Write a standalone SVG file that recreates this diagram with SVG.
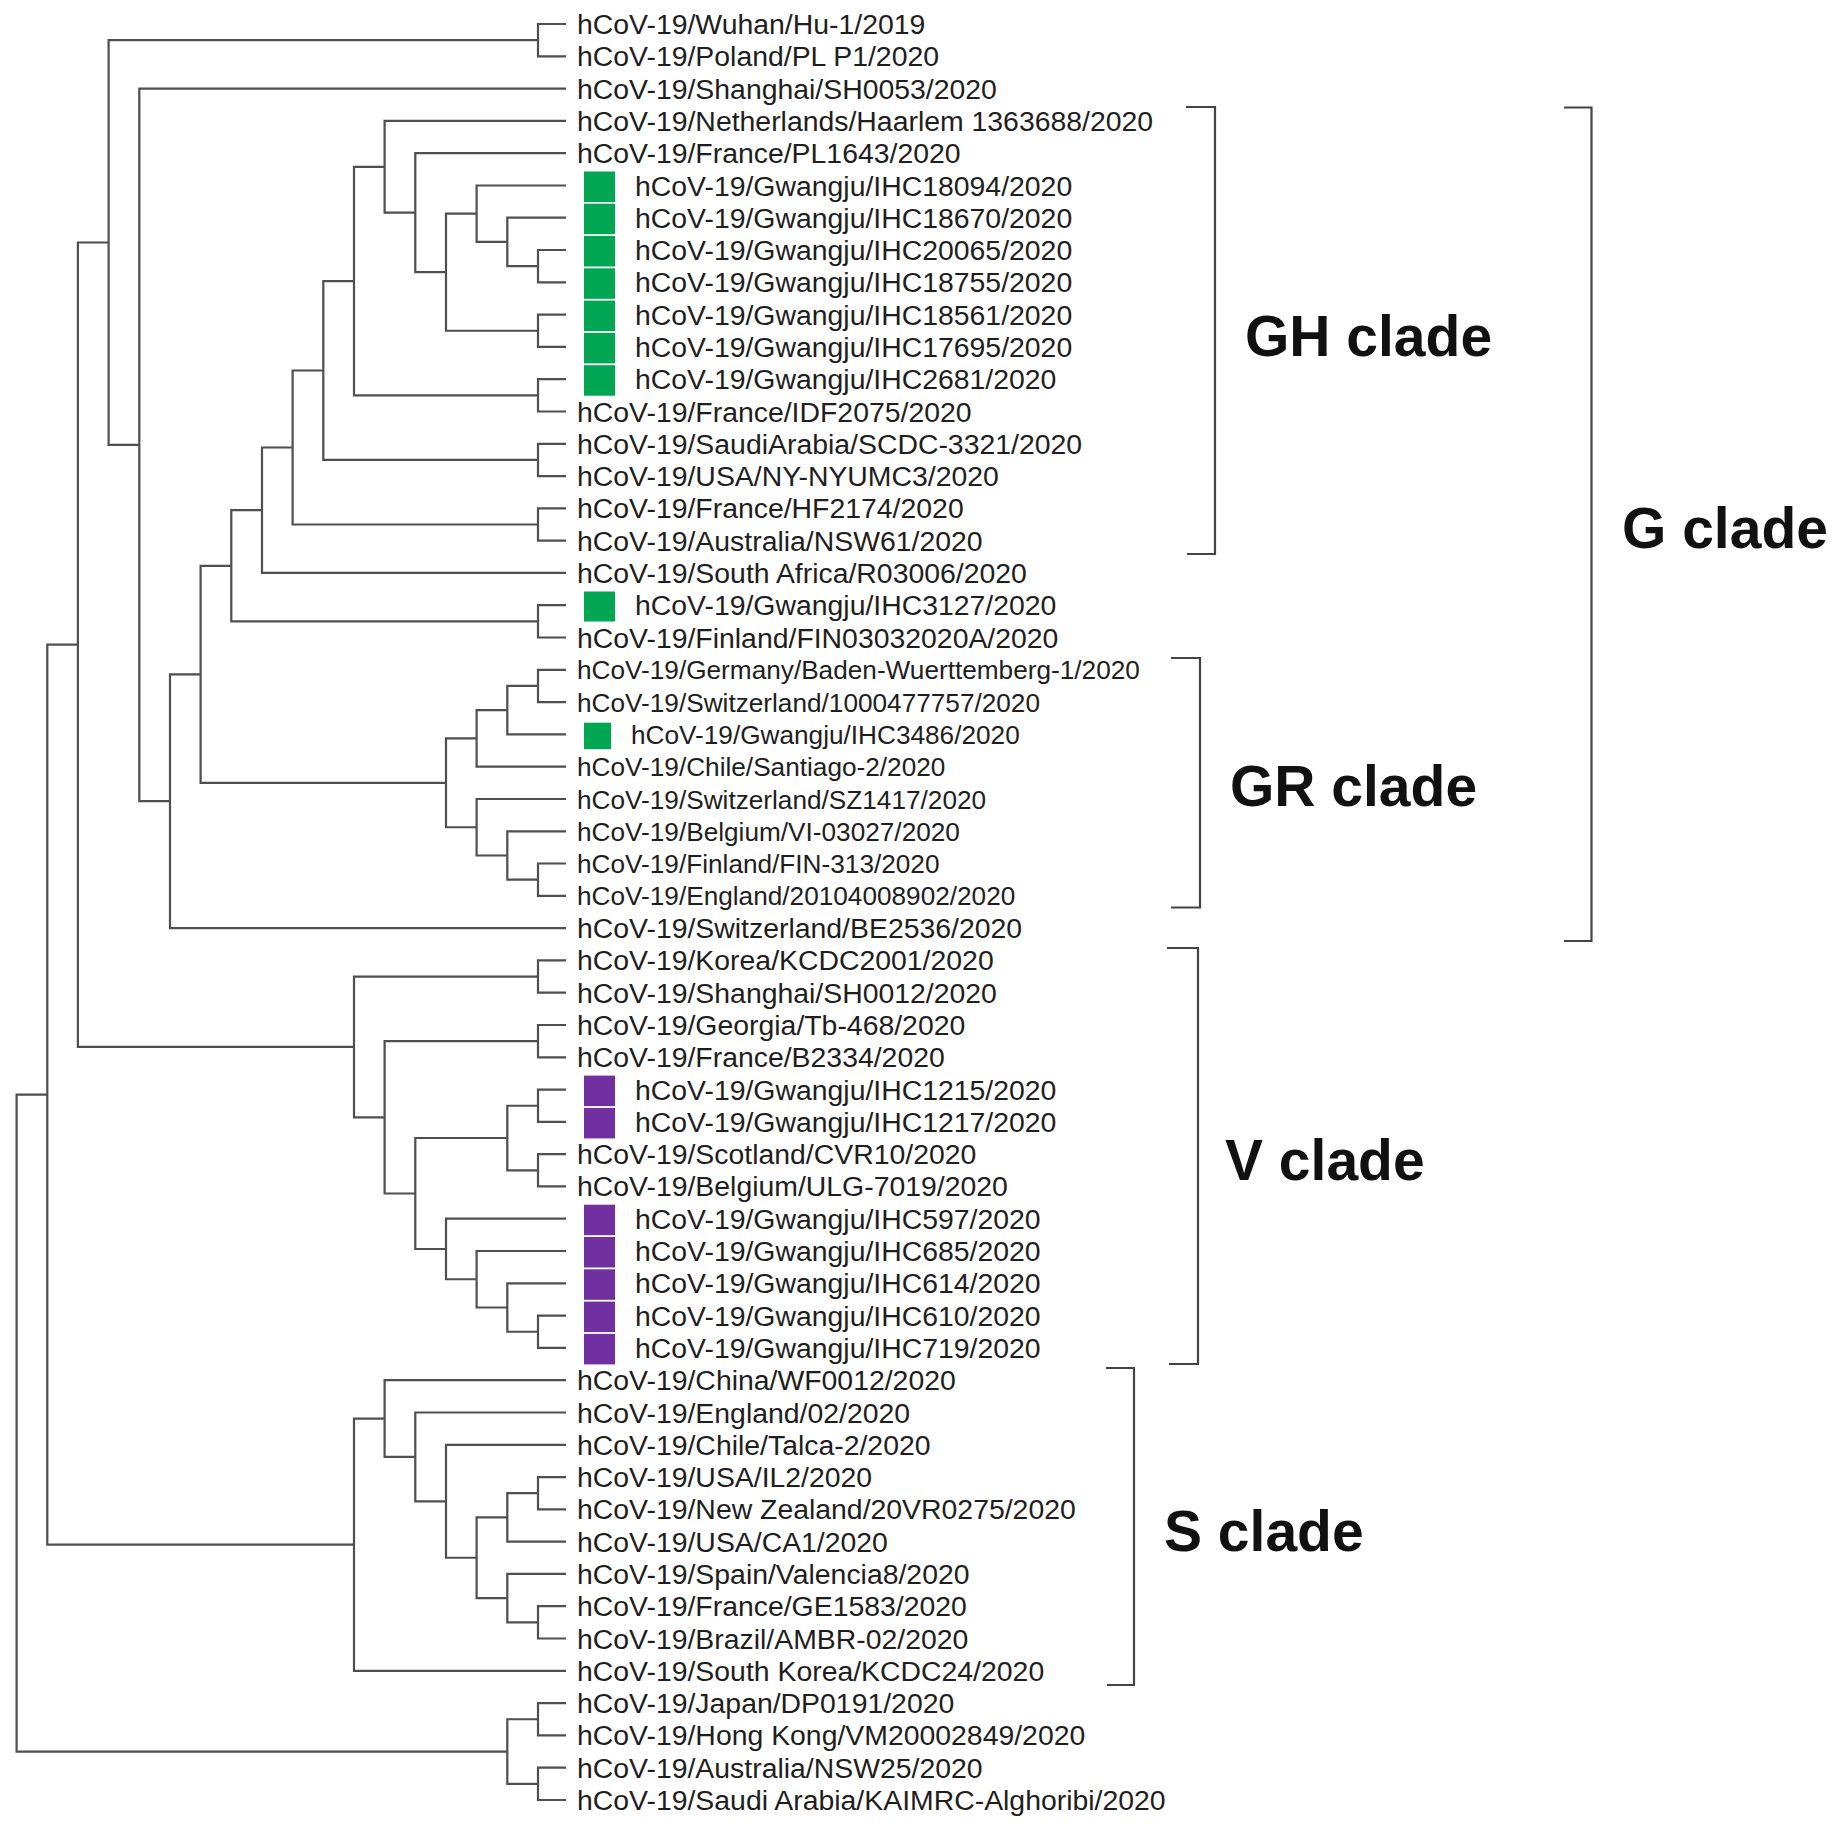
<svg xmlns="http://www.w3.org/2000/svg" width="1840" height="1832" viewBox="0 0 1840 1832">
<style>
.br{fill:none;stroke:#4f4f4f;stroke-width:2.2;stroke-linejoin:miter}
.bk{fill:none;stroke:#444;stroke-width:2.2}
.lb{font-family:"Liberation Sans",Arial,sans-serif;font-size:28.4px;fill:#1e1e1e}
.ls{font-family:"Liberation Sans",Arial,sans-serif;font-size:26.2px;fill:#1e1e1e}
.cl{font-family:"Liberation Sans",Arial,sans-serif;font-size:57px;font-weight:bold;fill:#111}
.gr{fill:#00a651}
.pu{fill:#7030a0}
</style>
<rect width="1840" height="1832" fill="#fff"/>
<g id="connectors">
<path class="br" d="M566 24 H538 V56.3 H566"/>
<path class="br" d="M566 605.2 H538 V637.5 H566"/>
<path class="br" d="M566 508.4 H538 V540.6 H566"/>
<path class="br" d="M566 443.8 H538 V476.1 H566"/>
<path class="br" d="M566 379.2 H538 V411.5 H566"/>
<path class="br" d="M566 314.6 H538 V346.9 H566"/>
<path class="br" d="M566 250 H538 V282.3 H566"/>
<path class="br" d="M566 669.8 H538 V702.1 H566"/>
<path class="br" d="M566 863.5 H538 V895.8 H566"/>
<path class="br" d="M566 960.4 H538 V992.7 H566"/>
<path class="br" d="M566 1025 H538 V1057.3 H566"/>
<path class="br" d="M566 1089.6 H538 V1121.9 H566"/>
<path class="br" d="M566 1154.2 H538 V1186.4 H566"/>
<path class="br" d="M566 1315.6 H538 V1347.9 H566"/>
<path class="br" d="M566 1477.1 H538 V1509.3 H566"/>
<path class="br" d="M566 1606.2 H538 V1638.5 H566"/>
<path class="br" d="M566 1703.1 H538 V1735.4 H566"/>
<path class="br" d="M566 1767.7 H538 V1800 H566"/>
<path class="br" d="M566 217.7 H507.3 V266.15 H538"/>
<path class="br" d="M566 185.5 H476.6 V241.9 H507.3"/>
<path class="br" d="M476.6 213.7 H446 V330.75 H538"/>
<path class="br" d="M566 153.2 H415.3 V272.2 H446"/>
<path class="br" d="M566 120.9 H384.6 V212.7 H415.3"/>
<path class="br" d="M384.6 166.8 H354 V395.35 H538"/>
<path class="br" d="M354 281.1 H323.3 V459.95 H538"/>
<path class="br" d="M323.3 370.5 H292.6 V524.5 H538"/>
<path class="br" d="M292.6 447.5 H262 V572.9 H566"/>
<path class="br" d="M262 510.2 H231.3 V621.35 H538"/>
<path class="br" d="M538 685.95 H507.3 V734.4 H566"/>
<path class="br" d="M507.3 710.2 H476.6 V766.7 H566"/>
<path class="br" d="M566 831.3 H507.3 V879.65 H538"/>
<path class="br" d="M566 799 H476.6 V855.5 H507.3"/>
<path class="br" d="M476.6 738.45 H446 V827.25 H476.6"/>
<path class="br" d="M231.3 565.8 H200.6 V782.85 H446"/>
<path class="br" d="M200.6 674.3 H170 V928.1 H566"/>
<path class="br" d="M566 88.6 H139.3 V801.2 H170"/>
<path class="br" d="M538 40.15 H108.6 V444.9 H139.3"/>
<path class="br" d="M538 1105.75 H507.3 V1170.3 H538"/>
<path class="br" d="M566 1283.3 H507.3 V1331.75 H538"/>
<path class="br" d="M566 1251 H476.6 V1307.5 H507.3"/>
<path class="br" d="M566 1218.7 H446 V1279.25 H476.6"/>
<path class="br" d="M507.3 1138 H415.3 V1249 H446"/>
<path class="br" d="M538 1041.15 H384.6 V1193.5 H415.3"/>
<path class="br" d="M538 976.55 H354 V1117.3 H384.6"/>
<path class="br" d="M108.6 242.5 H77.9 V1046.9 H354"/>
<path class="br" d="M538 1493.2 H507.3 V1541.6 H566"/>
<path class="br" d="M566 1573.9 H507.3 V1622.35 H538"/>
<path class="br" d="M507.3 1517.4 H476.6 V1598.1 H507.3"/>
<path class="br" d="M566 1444.8 H446 V1557.75 H476.6"/>
<path class="br" d="M566 1412.5 H415.3 V1501.3 H446"/>
<path class="br" d="M566 1380.2 H384.6 V1456.9 H415.3"/>
<path class="br" d="M384.6 1418.55 H354 V1670.8 H566"/>
<path class="br" d="M77.9 644.7 H47.3 V1544.7 H354"/>
<path class="br" d="M538 1719.25 H507.3 V1783.85 H538"/>
<path class="br" d="M47.3 1094.7 H16.6 V1751.55 H507.3"/>
</g>
<g id="leaves">
<g id="leaf0"><text class="lb" x="577" y="34">hCoV-19/Wuhan/Hu-1/2019</text></g>
<g id="leaf1"><text class="lb" x="577" y="66.3">hCoV-19/Poland/PL P1/2020</text></g>
<g id="leaf2"><text class="lb" x="577" y="98.6">hCoV-19/Shanghai/SH0053/2020</text></g>
<g id="leaf3"><text class="lb" x="577" y="130.9">hCoV-19/Netherlands/Haarlem 1363688/2020</text></g>
<g id="leaf4"><text class="lb" x="577" y="163.2">hCoV-19/France/PL1643/2020</text></g>
<g id="leaf5"><rect class="gr" x="584" y="171.5" width="31" height="30.5"/><text class="lb" x="635" y="195.5">hCoV-19/Gwangju/IHC18094/2020</text></g>
<g id="leaf6"><rect class="gr" x="584" y="203.7" width="31" height="30.5"/><text class="lb" x="635" y="227.7">hCoV-19/Gwangju/IHC18670/2020</text></g>
<g id="leaf7"><rect class="gr" x="584" y="236" width="31" height="30.5"/><text class="lb" x="635" y="260">hCoV-19/Gwangju/IHC20065/2020</text></g>
<g id="leaf8"><rect class="gr" x="584" y="268.3" width="31" height="30.5"/><text class="lb" x="635" y="292.3">hCoV-19/Gwangju/IHC18755/2020</text></g>
<g id="leaf9"><rect class="gr" x="584" y="300.6" width="31" height="30.5"/><text class="lb" x="635" y="324.6">hCoV-19/Gwangju/IHC18561/2020</text></g>
<g id="leaf10"><rect class="gr" x="584" y="332.9" width="31" height="30.5"/><text class="lb" x="635" y="356.9">hCoV-19/Gwangju/IHC17695/2020</text></g>
<g id="leaf11"><rect class="gr" x="584" y="365.2" width="31" height="30.5"/><text class="lb" x="635" y="389.2">hCoV-19/Gwangju/IHC2681/2020</text></g>
<g id="leaf12"><text class="lb" x="577" y="421.5">hCoV-19/France/IDF2075/2020</text></g>
<g id="leaf13"><text class="lb" x="577" y="453.8">hCoV-19/SaudiArabia/SCDC-3321/2020</text></g>
<g id="leaf14"><text class="lb" x="577" y="486.1">hCoV-19/USA/NY-NYUMC3/2020</text></g>
<g id="leaf15"><text class="lb" x="577" y="518.4">hCoV-19/France/HF2174/2020</text></g>
<g id="leaf16"><text class="lb" x="577" y="550.6">hCoV-19/Australia/NSW61/2020</text></g>
<g id="leaf17"><text class="lb" x="577" y="582.9">hCoV-19/South Africa/R03006/2020</text></g>
<g id="leaf18"><rect class="gr" x="584" y="591.5" width="31" height="30"/><text class="lb" x="635" y="615.2">hCoV-19/Gwangju/IHC3127/2020</text></g>
<g id="leaf19"><text class="lb" x="577" y="647.5">hCoV-19/Finland/FIN03032020A/2020</text></g>
<g id="leaf20"><text class="ls" x="577" y="679.3">hCoV-19/Germany/Baden-Wuerttemberg-1/2020</text></g>
<g id="leaf21"><text class="ls" x="577" y="711.6">hCoV-19/Switzerland/1000477757/2020</text></g>
<g id="leaf22"><rect class="gr" x="584" y="722.7" width="27" height="26.5"/><text class="ls" x="631" y="743.9">hCoV-19/Gwangju/IHC3486/2020</text></g>
<g id="leaf23"><text class="ls" x="577" y="776.2">hCoV-19/Chile/Santiago-2/2020</text></g>
<g id="leaf24"><text class="ls" x="577" y="808.5">hCoV-19/Switzerland/SZ1417/2020</text></g>
<g id="leaf25"><text class="ls" x="577" y="840.8">hCoV-19/Belgium/VI-03027/2020</text></g>
<g id="leaf26"><text class="ls" x="577" y="873">hCoV-19/Finland/FIN-313/2020</text></g>
<g id="leaf27"><text class="ls" x="577" y="905.3">hCoV-19/England/20104008902/2020</text></g>
<g id="leaf28"><text class="lb" x="577" y="938.1">hCoV-19/Switzerland/BE2536/2020</text></g>
<g id="leaf29"><text class="lb" x="577" y="970.4">hCoV-19/Korea/KCDC2001/2020</text></g>
<g id="leaf30"><text class="lb" x="577" y="1002.7">hCoV-19/Shanghai/SH0012/2020</text></g>
<g id="leaf31"><text class="lb" x="577" y="1035">hCoV-19/Georgia/Tb-468/2020</text></g>
<g id="leaf32"><text class="lb" x="577" y="1067.3">hCoV-19/France/B2334/2020</text></g>
<g id="leaf33"><rect class="pu" x="584" y="1075.6" width="31" height="30.5"/><text class="lb" x="635" y="1099.6">hCoV-19/Gwangju/IHC1215/2020</text></g>
<g id="leaf34"><rect class="pu" x="584" y="1107.9" width="31" height="30.5"/><text class="lb" x="635" y="1131.9">hCoV-19/Gwangju/IHC1217/2020</text></g>
<g id="leaf35"><text class="lb" x="577" y="1164.2">hCoV-19/Scotland/CVR10/2020</text></g>
<g id="leaf36"><text class="lb" x="577" y="1196.4">hCoV-19/Belgium/ULG-7019/2020</text></g>
<g id="leaf37"><rect class="pu" x="584" y="1204.7" width="31" height="30.5"/><text class="lb" x="635" y="1228.7">hCoV-19/Gwangju/IHC597/2020</text></g>
<g id="leaf38"><rect class="pu" x="584" y="1237" width="31" height="30.5"/><text class="lb" x="635" y="1261">hCoV-19/Gwangju/IHC685/2020</text></g>
<g id="leaf39"><rect class="pu" x="584" y="1269.3" width="31" height="30.5"/><text class="lb" x="635" y="1293.3">hCoV-19/Gwangju/IHC614/2020</text></g>
<g id="leaf40"><rect class="pu" x="584" y="1301.6" width="31" height="30.5"/><text class="lb" x="635" y="1325.6">hCoV-19/Gwangju/IHC610/2020</text></g>
<g id="leaf41"><rect class="pu" x="584" y="1333.9" width="31" height="30.5"/><text class="lb" x="635" y="1357.9">hCoV-19/Gwangju/IHC719/2020</text></g>
<g id="leaf42"><text class="lb" x="577" y="1390.2">hCoV-19/China/WF0012/2020</text></g>
<g id="leaf43"><text class="lb" x="577" y="1422.5">hCoV-19/England/02/2020</text></g>
<g id="leaf44"><text class="lb" x="577" y="1454.8">hCoV-19/Chile/Talca-2/2020</text></g>
<g id="leaf45"><text class="lb" x="577" y="1487.1">hCoV-19/USA/IL2/2020</text></g>
<g id="leaf46"><text class="lb" x="577" y="1519.3">hCoV-19/New Zealand/20VR0275/2020</text></g>
<g id="leaf47"><text class="lb" x="577" y="1551.6">hCoV-19/USA/CA1/2020</text></g>
<g id="leaf48"><text class="lb" x="577" y="1583.9">hCoV-19/Spain/Valencia8/2020</text></g>
<g id="leaf49"><text class="lb" x="577" y="1616.2">hCoV-19/France/GE1583/2020</text></g>
<g id="leaf50"><text class="lb" x="577" y="1648.5">hCoV-19/Brazil/AMBR-02/2020</text></g>
<g id="leaf51"><text class="lb" x="577" y="1680.8">hCoV-19/South Korea/KCDC24/2020</text></g>
<g id="leaf52"><text class="lb" x="577" y="1713.1">hCoV-19/Japan/DP0191/2020</text></g>
<g id="leaf53"><text class="lb" x="577" y="1745.4">hCoV-19/Hong Kong/VM20002849/2020</text></g>
<g id="leaf54"><text class="lb" x="577" y="1777.7">hCoV-19/Australia/NSW25/2020</text></g>
<g id="leaf55"><text class="lb" x="577" y="1810">hCoV-19/Saudi Arabia/KAIMRC-Alghoribi/2020</text></g>
</g>
<g id="clades">
<g id="clade-GH"><path class="bk" d="M1186 107 H1215 V554 H1187"/><text class="cl" x="1245" y="356">GH clade</text></g>
<g id="clade-GR"><path class="bk" d="M1171 658 H1200 V907.5 H1171"/><text class="cl" x="1230" y="806">GR clade</text></g>
<g id="clade-G"><path class="bk" d="M1564 107.5 H1591.5 V941 H1564"/><text class="cl" x="1622" y="548">G clade</text></g>
<g id="clade-V"><path class="bk" d="M1167 948 H1198 V1364 H1169"/><text class="cl" x="1225" y="1180">V clade</text></g>
<g id="clade-S"><path class="bk" d="M1106 1368 H1134 V1685 H1107"/><text class="cl" x="1164" y="1551">S clade</text></g>
</g>
</svg>
